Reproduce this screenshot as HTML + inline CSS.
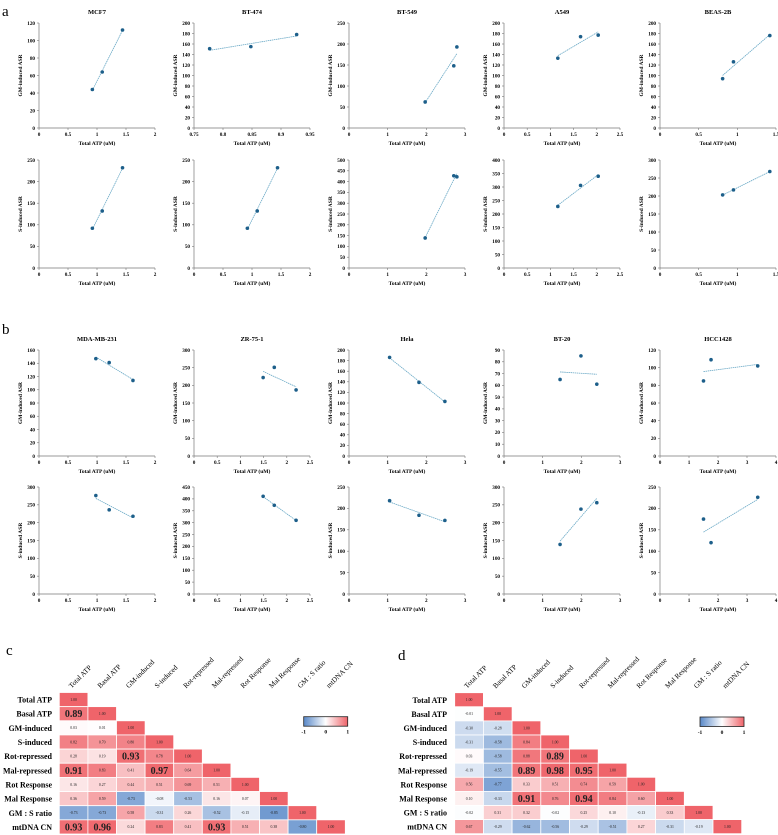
<!DOCTYPE html>
<html><head><meta charset="utf-8"><style>
html,body{margin:0;padding:0;background:#fff;}
svg{display:block;font-family:"Liberation Serif",serif;}
</style></head><body>
<svg id="fig" width="778" height="835" viewBox="0 0 778 835" xmlns="http://www.w3.org/2000/svg"></svg>
<script>
// ---------- scatter data ----------
const cellLinesA = ["MCF7","BT-474","BT-549","A549","BEAS-2B"];
const atpA = [[0.92,1.09,1.44],[0.777,0.848,0.927],[1.97,2.71,2.79],[1.16,1.65,2.03],[0.81,0.95,1.42]];
const atpAS = [[0.92,1.09,1.44],[0.92,1.09,1.44],[1.97,2.71,2.79],[1.16,1.65,2.03],[0.81,0.95,1.42]];
const gmA = [[44,64,112],[151,155,178],[62,148,193],[133,174,177],[94,126,176]];
const sA = [[92,132,232],[92,132,232],[139,427,422],[228,306,340],[203,217,268]];
const xAxisA = [[0,2,0.5],[0.75,0.95,0.05],[0,3,1],[0,2.5,0.5],[0,1.5,0.5]];
const xAxisAS = [[0,2,0.5],[0,2,0.5],[0,3,1],[0,2.5,0.5],[0,1.5,0.5]];
const yGmA = [[0,120,20],[0,200,20],[0,250,50],[0,200,20],[0,200,20]];
const ySA = [[0,250,50],[0,250,50],[0,500,50],[0,400,50],[0,300,50]];

const cellLinesB = ["MDA-MB-231","ZR-75-1","Hela","BT-20","HCC1428"];
const atpB = [[0.98,1.21,1.62],[1.49,1.73,2.20],[1.05,1.81,2.48],[1.45,1.99,2.40],[1.50,1.76,3.37]];
const gmB = [[147,141,114],[222,251,187],[186,139,103],[65,85,61],[85,109,102]];
const sB = [[276,236,218],[411,373,310],[218,184,172],[139,238,256],[175,120,226]];
const xAxisB = [[0,2,0.5],[0,2.5,0.5],[0,3,1],[0,3,1],[0,4,1]];
const yGmB = [[0,160,20],[0,300,50],[0,200,20],[0,90,10],[0,120,20]];
const ySB = [[0,300,50],[0,450,50],[0,250,50],[0,300,50],[0,250,50]];

// ---------- heatmap data ----------
const varNames = ["Total ATP","Basal ATP","GM-induced","S-induced","Rot-repressed","Mal-repressed","Rot Response","Mal Response","GM : S ratio","mtDNA CN"];
const corrC = [
[1.00],
[0.89,1.00],
[0.03,0.01,1.00],
[0.82,0.70,0.80,1.00],
[0.28,0.19,0.93,0.78,1.00],
[0.91,0.83,0.41,0.97,0.64,1.00],
[0.16,0.27,0.44,0.51,0.69,0.51,1.00],
[0.36,0.59,-0.73,-0.08,-0.53,0.16,0.07,1.00],
[-0.73,-0.73,0.58,-0.31,0.26,-0.52,-0.15,-0.85,1.00],
[0.93,0.96,0.24,0.83,0.41,0.93,0.51,0.38,-0.80,1.00]];
const corrD = [
[1.00],
[-0.01,1.00],
[-0.30,-0.28,1.00],
[-0.31,-0.58,0.84,1.00],
[0.03,-0.58,0.88,0.89,1.00],
[-0.19,-0.55,0.89,0.98,0.95,1.00],
[0.56,-0.77,0.33,0.51,0.74,0.59,1.00],
[0.10,-0.33,0.91,0.76,0.94,0.84,0.60,1.00],
[-0.02,0.31,0.32,-0.02,0.25,0.10,-0.13,0.33,1.00],
[0.67,-0.29,-0.62,-0.56,-0.29,-0.51,0.27,-0.31,-0.19,1.00]];

const NS="http://www.w3.org/2000/svg";
const svg=document.getElementById('fig');
function mk(tag,attrs,parent){const e=document.createElementNS(NS,tag);for(const k in attrs)e.setAttribute(k,attrs[k]);(parent||svg).appendChild(e);return e;}
function txt(s,attrs,parent){const e=mk('text',attrs,parent);e.textContent=s;return e;}
function fmt(v){return (Math.round(v*100)/100).toString();}

const colX=[39,194,349,504,660], PW=116;

function scatter(px,top,bot,xs,ys,xr,yr,title,ylab,name){
  const g=mk('g',{});
  
  
  const sx=v=>px+(v-xr[0])/(xr[1]-xr[0])*PW;
  const sy=v=>bot-(v-yr[0])/(yr[1]-yr[0])*(bot-top);
  if(title){const t=txt(title,{x:px+PW/2,y:top-9,'text-anchor':'middle','font-size':6.5,'font-weight':'bold'},g);
    }
  mk('line',{x1:px,y1:top,x2:px,y2:bot,stroke:'#777','stroke-width':0.7},g);
  mk('line',{x1:px,y1:bot,x2:px+PW,y2:bot,stroke:'#777','stroke-width':0.7},g);
  const ny=Math.round((yr[1]-yr[0])/yr[2]);
  for(let i=0;i<=ny;i++){const v=yr[0]+i*yr[2],y=sy(v);
    mk('line',{x1:px-2,y1:y,x2:px,y2:y,stroke:'#777','stroke-width':0.6},g);
    txt(fmt(v),{x:px-4,y:y+1.8,'text-anchor':'end','font-size':5.2,'font-weight':'bold'},g);}
  const nx=Math.round((xr[1]-xr[0])/xr[2]);
  for(let i=0;i<=nx;i++){const v=xr[0]+i*xr[2],x=sx(v);
    mk('line',{x1:x,y1:bot,x2:x,y2:bot+2,stroke:'#777','stroke-width':0.6},g);
    txt(fmt(v),{x:x,y:bot+8,'text-anchor':'middle','font-size':5.2,'font-weight':'bold'},g);}
  const xl=txt('Total ATP (uM)',{x:px+PW/2,y:bot+17,'text-anchor':'middle','font-size':5.5,'font-weight':'bold'},g);
  
  const yc=(top+bot)/2;
  const yl=txt(ylab,{x:px-17,y:yc,'text-anchor':'middle','font-size':5.5,'font-weight':'bold',transform:`rotate(-90 ${px-17} ${yc})`},g);
  
  // regression
  const n=xs.length,mx=xs.reduce((a,b)=>a+b)/n,my=ys.reduce((a,b)=>a+b)/n;
  let sxy=0,sxx=0;for(let i=0;i<n;i++){sxy+=(xs[i]-mx)*(ys[i]-my);sxx+=(xs[i]-mx)**2;}
  const b=sxy/sxx,a=my-b*mx,x0=Math.min(...xs),x1=Math.max(...xs);
  const tl=mk('line',{x1:sx(x0),y1:sy(a+b*x0),x2:sx(x1),y2:sy(a+b*x1),stroke:'#6aa9c6','stroke-width':0.8,'stroke-dasharray':'1.5 0.6'},g);
  
  for(let i=0;i<n;i++){const c=mk('circle',{cx:sx(xs[i]),cy:sy(ys[i]),r:1.8,fill:'#1d5f8a'},g);
    }
}

function label(s,x,y,size,name){const t=txt(s,{x:x,y:y,'font-size':size});}
label('a',2,16,15,'panel-label-a');
label('b',2,334,15,'panel-label-b');
label('c',6,655,15,'panel-label-c');
label('d',398,660,15,'panel-label-d');

for(let i=0;i<5;i++){
  scatter(colX[i],23,128,atpA[i],gmA[i],xAxisA[i],yGmA[i],cellLinesA[i],'GM-induced ASR','scatter-gm-'+cellLinesA[i].toLowerCase());
  scatter(colX[i],160,268,atpAS[i],sA[i],xAxisAS[i],ySA[i],null,'S-induced ASR','scatter-s-'+cellLinesA[i].toLowerCase());
  scatter(colX[i],350,456,atpB[i],gmB[i],xAxisB[i],yGmB[i],cellLinesB[i],'GM-induced ASR','scatter-gm-'+cellLinesB[i].toLowerCase());
  scatter(colX[i],487,594,atpB[i],sB[i],xAxisB[i],ySB[i],null,'S-induced ASR','scatter-s-'+cellLinesB[i].toLowerCase());
}

function color(v){
  const r=[239,100,106],bl=[88,136,200],t=Math.min(1,Math.abs(v)),c=v>=0?r:bl;
  return `rgb(${Math.round(255+(c[0]-255)*t)},${Math.round(255+(c[1]-255)*t)},${Math.round(255+(c[2]-255)*t)})`;
}
function heatmap(x0,y0,cw,ch,data,lblX,name){
  const g=mk('g',{});
  
  
  for(let r=0;r<data.length;r++){
    const rl=txt(varNames[r],{x:lblX,y:y0+r*ch+ch/2+3,'text-anchor':'end','font-size':8,'font-weight':'bold'},g);
    
    for(let c=0;c<data[r].length;c++){
      const v=data[r][c];
      const rc=mk('rect',{x:x0+c*cw,y:y0+r*ch,width:cw,height:ch,fill:color(v),stroke:'#fff','stroke-width':0.8},g);
      
      const big=(r!==c && v>=0.89);
      txt(v.toFixed(2),{x:x0+c*cw+cw/2,y:y0+r*ch+ch/2+(big?3.5:1.3),'text-anchor':'middle','font-size':big?10:3.8,'font-weight':big?'bold':'normal',fill:'#222'},g);
    }
  }
  for(let c=0;c<varNames.length;c++){
    const x=x0+c*cw+cw/2-2,y=y0-4;
    const cl=txt(varNames[c],{x:x,y:y,'font-size':7.2,transform:`rotate(-45 ${x} ${y})`},g);
    
  }
}
heatmap(59.3,692.5,28.6,14.15,corrC,52,'correlation-heatmap-c');
heatmap(454.7,692.7,28.7,14.1,corrD,447,'correlation-heatmap-d');

// colorbars
const defs=mk('defs',{});
const lg=mk('linearGradient',{id:'cb'},defs);
[[0,color(-1)],[0.5,'#fff'],[1,color(1)]].forEach(s=>mk('stop',{offset:s[0],'stop-color':s[1]},lg));
function colorbar(x,y,name){
  const g=mk('g',{});
  mk('rect',{x:x,y:y,width:44,height:9.5,fill:'url(#cb)',stroke:'#222','stroke-width':0.8},g);
  [['-1',0],['0',22],['1',44]].forEach(t=>txt(t[0],{x:x+t[1],y:y+17,'text-anchor':'middle','font-size':5.5,'font-weight':'bold'},g));
}
colorbar(303.7,716.7,'colorbar-c');
colorbar(700,717,'colorbar-d');
</script>
</body></html>
